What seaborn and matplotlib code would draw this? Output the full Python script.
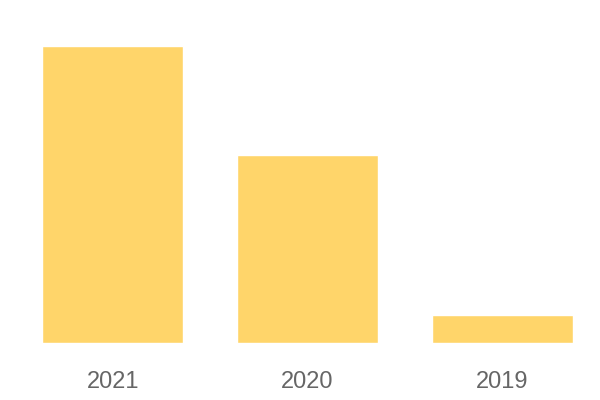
import pandas as pd
import matplotlib.pyplot as plt
import seaborn as sns

years = ["2021", "2020", "2019"]
values = [106, 67, 10]
BAR_COLOR = "#FFD56A"

df = pd.DataFrame({"year": years, "value": values})

sns.set_style("white")
plt.rcParams["font.family"] = ["Liberation Sans", "DejaVu Sans"]

fig = plt.figure(figsize=(6, 4), dpi=100)
ax = fig.add_axes([42.5 / 600, 57 / 400, 530 / 600, 297.5 / 400])
sns.barplot(data=df, x="year", y="value", order=years, color=BAR_COLOR,
            width=0.72, saturation=1, ax=ax)

ax.set_xlim(-0.36, 2.36)
ax.set_ylim(0, max(values))
ax.set_xlabel("")
ax.set_ylabel("")
ax.set_yticks([])
ax.tick_params(axis="x", length=0, pad=20, labelsize=17, labelcolor="#666666")
sns.despine(ax=ax, left=True, bottom=True)

fig.savefig("out.png", dpi=100)
